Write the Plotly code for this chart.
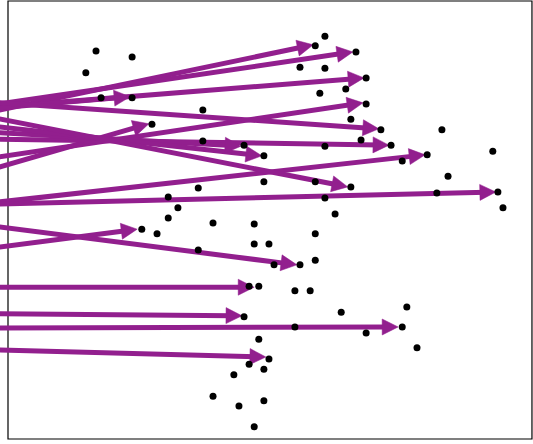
import numpy as np
import plotly.graph_objects as go

# Scattered observations
dot_x = [17.3, 24.4, 15.3, 18.3, 24.4, 28.3, 38.3, 38.3, 46.4, 50.3,
         50.3, 37.4, 31.5, 33.4, 31.5, 40.3, 48.4, 26.3, 29.3, 48.4,
         51.3, 37.4, 52.3, 57.4, 47.4, 49.3, 56.4, 59.4, 46.4, 56.4,
         65.5, 70.4, 77.5, 78.4, 80.4, 49.3, 51.3, 47.4, 50.3, 44.4,
         40.3, 45.4, 50.3, 48.4, 62.3, 60.4, 68.4, 57.4, 62.3, 70.4,
         61.3, 66.4, 70.4, 67.4, 73.3, 69.4, 62.3, 75.3, 85.3, 82.4,
         77.5, 86.5, 95.3, 60.4, 67.4, 62.3, 64.3, 84.3, 96.3, 97.3,
         60.4, 60.4]
dot_y = [76.2, 75.0, 71.9, 67.0, 67.0, 61.8, 64.6, 58.5, 57.7, 55.6,
         50.5, 49.3, 47.5, 45.4, 43.4, 42.4, 42.2, 41.2, 40.3, 38.3,
         38.3, 37.1, 34.2, 34.2, 30.0, 30.0, 29.1, 29.1, 24.0, 22.0,
         24.9, 20.8, 22.0, 25.9, 17.9, 19.6, 15.7, 14.7, 13.7, 12.6,
         8.4, 6.5, 7.5, 2.4, 79.1, 77.2, 76.0, 73.0, 72.8, 70.9,
         67.9, 68.7, 65.8, 62.8, 60.7, 58.7, 57.5, 57.7, 60.7, 55.8,
         54.6, 51.6, 56.5, 50.5, 49.5, 47.3, 44.2, 48.3, 48.5, 45.4,
         40.3, 35.1]

# Arrows: start (tail) and end (tip) of each one
arrow_x0 = [-3.0] * 19
arrow_y0 = [64.3, 65.6, 65.1, 64.9, 53.0, 55.2, 66.1, 58.9, 60.2, 61.4,
            46.4, 63.1, 46.1, 37.5, 41.8, 29.8, 24.6, 21.8, 17.5]
arrow_x1 = [60.0, 67.8, 70.0, 24.0, 27.7, 69.8, 72.9, 74.9, 45.8, 49.9,
            82.0, 66.8, 95.9, 25.4, 56.8, 48.4, 46.0, 76.7, 50.7]
arrow_y1 = [77.4, 76.0, 70.9, 67.2, 61.9, 66.0, 60.9, 57.7, 57.5, 55.6,
            55.8, 49.5, 48.5, 41.2, 34.2, 29.8, 24.2, 22.0, 16.1]

W, H = 533, 444
X_RANGE = [-1.5726, 103.204]
Y_RANGE = [-0.9817, 86.197]
FRAME_X = [0, 103]
FRAME_Y = [0, 86]
PURPLE = "#921f8e"

# pixels per data unit, used to give arrowheads a true (undistorted) shape
sx = W / (X_RANGE[1] - X_RANGE[0])
sy = H / (Y_RANGE[1] - Y_RANGE[0])
HEAD_LEN = 16.0   # px
HEAD_HALF = 8.0   # px

shaft_x, shaft_y, head_x, head_y = [], [], [], []
for x0, y0, x1, y1 in zip(arrow_x0, arrow_y0, arrow_x1, arrow_y1):
    dx, dy = (x1 - x0) * sx, (y1 - y0) * sy
    n = np.hypot(dx, dy)
    ux, uy = dx / n, dy / n
    # base of the head, and perpendicular offsets
    bx, by = x1 - HEAD_LEN * ux / sx, y1 - HEAD_LEN * uy / sy
    px, py = -uy * HEAD_HALF / sx, ux * HEAD_HALF / sy
    ex, ey = x1 - 0.6 * HEAD_LEN * ux / sx, y1 - 0.6 * HEAD_LEN * uy / sy
    shaft_x += [x0, ex, None]
    shaft_y += [y0, ey, None]
    head_x += [x1, bx + px, bx - px, x1, None]
    head_y += [y1, by + py, by - py, y1, None]

fig = go.Figure()
fig.add_trace(go.Scatter(x=shaft_x, y=shaft_y, mode="lines",
                         line=dict(color=PURPLE, width=5),
                         hoverinfo="skip"))
fig.add_trace(go.Scatter(x=head_x, y=head_y, mode="lines", fill="toself",
                         fillcolor=PURPLE, line=dict(color=PURPLE, width=0.5),
                         hoverinfo="skip"))
fig.add_trace(go.Scatter(x=dot_x, y=dot_y, mode="markers",
                         marker=dict(color="black", size=7, line=dict(width=0))))

fig.add_shape(type="rect", xref="x", yref="y",
              x0=FRAME_X[0], x1=FRAME_X[1], y0=FRAME_Y[0], y1=FRAME_Y[1],
              line=dict(color="black", width=1.2), layer="below")

fig.update_layout(
    width=W, height=H,
    margin=dict(l=0, r=0, t=0, b=0),
    paper_bgcolor="white", plot_bgcolor="white",
    showlegend=False,
    xaxis=dict(range=X_RANGE, visible=False, fixedrange=True),
    yaxis=dict(range=Y_RANGE, visible=False, fixedrange=True),
)

fig.write_html("out.html")
